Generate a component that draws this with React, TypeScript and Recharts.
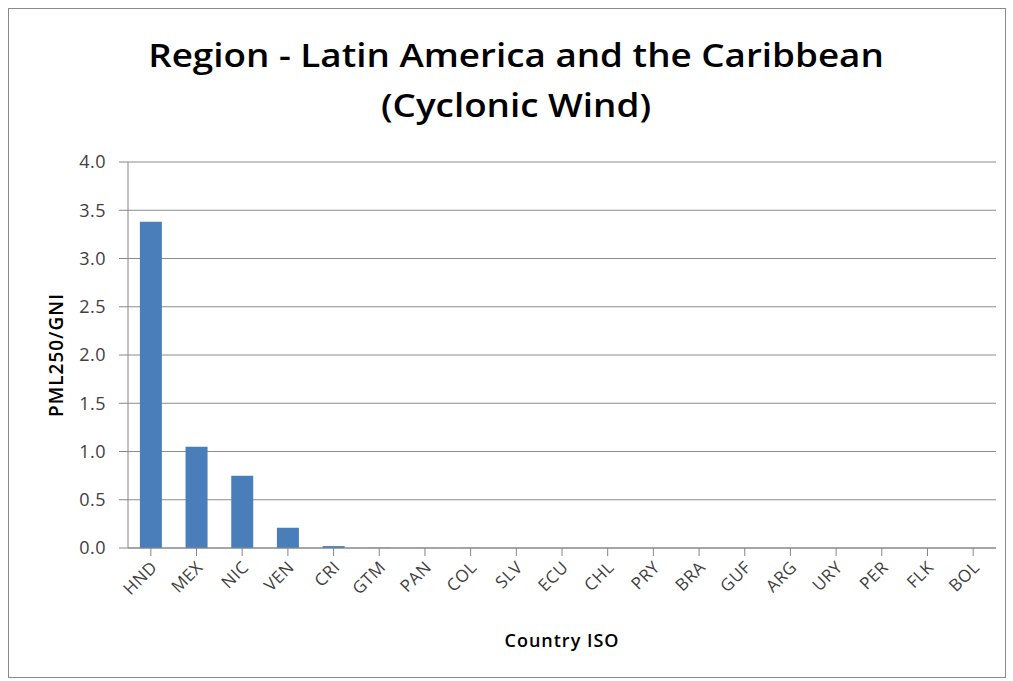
import React from 'react';
import { BarChart, Bar, XAxis, YAxis, CartesianGrid, Label } from 'recharts';

const countries = ['HND', 'MEX', 'NIC', 'VEN', 'CRI', 'GTM', 'PAN', 'COL', 'SLV', 'ECU', 'CHL', 'PRY', 'BRA', 'GUF', 'ARG', 'URY', 'PER', 'FLK', 'BOL'];
const pmlGni = [3.38, 1.05, 0.75, 0.21, 0.02, 0.002, 0.001, 0.001, 0.001, 0, 0, 0, 0, 0, 0, 0, 0, 0, 0];
const yTicks = [0, 0.5, 1, 1.5, 2, 2.5, 3, 3.5, 4];

const data = countries.map((c, i) => ({ iso: c, value: pmlGni[i] }));

const FONT = '"Open Sans", "Liberation Sans", sans-serif';

function XTick(props: any) {
  const { x, y, payload } = props;
  return (
    <g transform={`translate(${x + 1},${y + 4})`}>
      <text transform="rotate(-45)" textAnchor="end" dy={9} fontSize={17} letterSpacing={0.5} fill="#404040" fontFamily={FONT}>
        {payload.value}
      </text>
    </g>
  );
}

export default function App() {
  return (
    <div style={{ position: 'absolute', left: 0, top: 0, width: 1013, height: 681, background: '#fff' }}>
      <div style={{ position: 'absolute', left: 8, top: 8, width: 996, height: 668, border: '1px solid #8a8a8a' }} />
      <div
        style={{
          position: 'absolute',
          left: 0,
          top: 30,
          width: 1032,
          textAlign: 'center',
          fontFamily: FONT,
          fontWeight: 600,
          fontSize: 32,
          lineHeight: '50px',
          color: '#000',
          transform: 'scaleX(1.15)',
          transformOrigin: '516px 0',
        }}
      >
        Region - Latin America and the Caribbean
        <br />
        (Cyclonic Wind)
      </div>
      <div style={{ position: 'absolute', left: 0, top: 0 }}>
        <BarChart width={1013} height={681} data={data} margin={{ top: 162, right: 17, left: 68, bottom: 26 }} barCategoryGap="26%">
          <CartesianGrid vertical={false} stroke="#8c8c8c" strokeWidth={1} />
          <XAxis dataKey="iso" height={107} interval={0} tick={<XTick />} tickLine={{ stroke: '#868686' }} tickSize={8} axisLine={{ stroke: '#868686' }}>
            <Label value="Country ISO" position="insideBottom" offset={8} style={{ fontFamily: FONT, fontSize: 18, fontWeight: 600, letterSpacing: 1, fill: '#000' }} />
          </XAxis>
          <YAxis
            width={60}
            domain={[0, 4]}
            ticks={yTicks}
            tickFormatter={(v: number) => v.toFixed(1)}
            tick={{ fontSize: 18, fill: '#404040', fontFamily: FONT, letterSpacing: 0.5 }}
            tickLine={{ stroke: '#868686' }}
            tickSize={9}
            tickMargin={13}
            axisLine={{ stroke: '#868686' }}
          >
            <Label value="PML250/GNI" angle={-90} position="insideLeft" offset={-12} style={{ fontFamily: FONT, fontSize: 19, fontWeight: 600, letterSpacing: 1, fill: '#000', textAnchor: 'middle' }} />
          </YAxis>
          <Bar dataKey="value" fill="#4a7ebb" isAnimationActive={false} />
        </BarChart>
      </div>
    </div>
  );
}
